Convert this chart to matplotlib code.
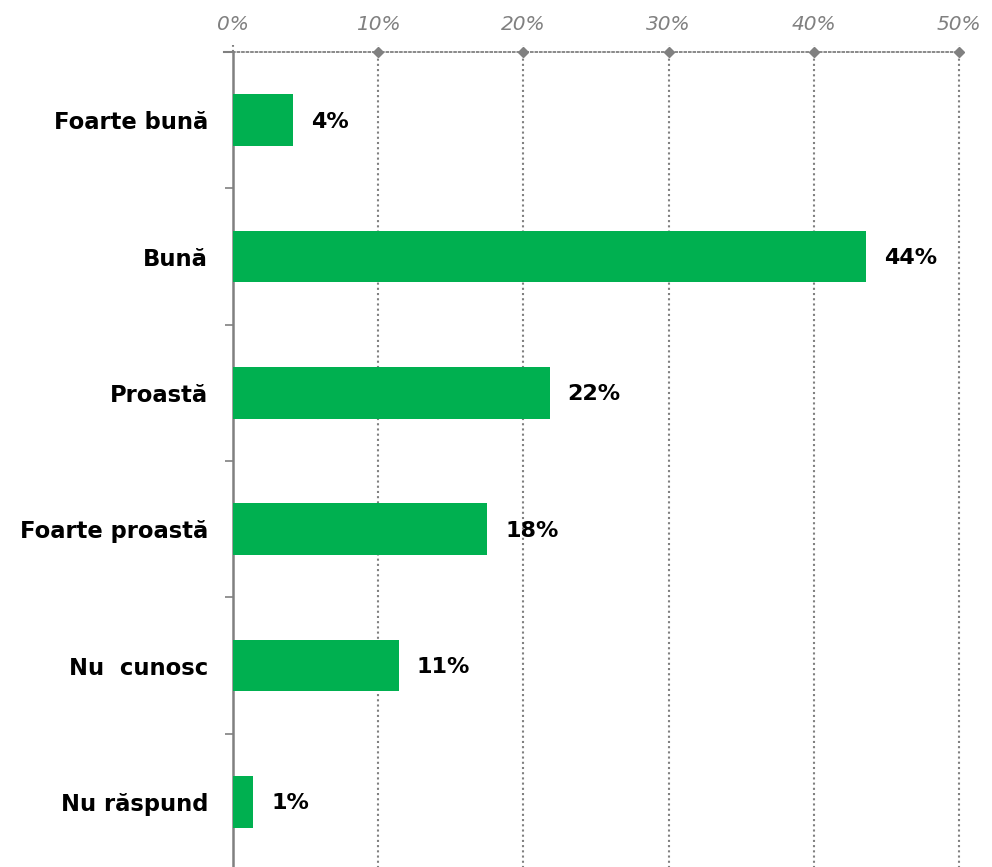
import matplotlib
matplotlib.use('Agg')
import matplotlib.pyplot as plt
import numpy as np

# data
categories = ['Foarte bună', 'Bună', 'Proastă', 'Foarte proastă', 'Nu  cunosc', 'Nu răspund']
values = [4.1, 43.6, 21.8, 17.5, 11.4, 1.4]
value_labels = ['4%', '44%', '22%', '18%', '11%', '1%']
x_ticks = [0, 10, 20, 30, 40, 50]
x_tick_labels = ['0%', '10%', '20%', '30%', '40%', '50%']

GREEN = '#00B050'
GRAY = '#808080'

plt.rcParams['font.family'] = ['DejaVu Sans']

fig = plt.figure(figsize=(9.92, 8.67), dpi=100)
ax = fig.add_axes([0.2349, -0.0035, 0.7318, 0.9435])

y = np.arange(len(categories))
ax.barh(y, values, height=0.38, color=GREEN, zorder=3)

ax.set_xlim(0, 50)
ax.set_ylim(len(categories) - 0.5, -0.5)

# value labels
for yi, v, lab in zip(y, values, value_labels):
    ax.annotate(lab, xy=(v, yi), xytext=(13, -1), textcoords='offset points',
                ha='left', va='center', fontsize=16, fontweight='bold', color='black')

# category labels + boundary ticks on the left
ax.set_yticks(y)
ax.set_yticklabels(categories, fontsize=16.3, fontweight='bold')
ax.set_yticks(np.arange(len(categories)) + 0.5, minor=True)
ax.tick_params(axis='y', which='major', length=0, pad=18)
ax.tick_params(axis='y', which='minor', length=6, width=1.2, color=GRAY, direction='out')

# top axis
ax.xaxis.tick_top()
ax.set_xticks(x_ticks)
ax.set_xticklabels(x_tick_labels, fontsize=14.5, style='italic', color=GRAY)
ax.tick_params(axis='x', length=0, pad=13)

# dotted gridlines, extended slightly above the top line
for xt in x_ticks[1:]:
    ax.axvline(xt, ymin=0, ymax=1.009, color=GRAY, linestyle=(0, (1, 1.5)),
               linewidth=1.5, clip_on=False, zorder=1)
ax.axvline(0, ymin=1.0, ymax=1.009, color=GRAY, linestyle=(0, (1, 1.5)),
           linewidth=1.5, clip_on=False, zorder=1)
ax.plot(x_ticks[1:], [1] * (len(x_ticks) - 1), transform=ax.get_xaxis_transform(),
        linestyle='none', marker='D', markersize=5, color=GRAY, clip_on=False, zorder=4)
# small tick left of the origin on the top line
ax.plot([-0.6, 0], [1, 1], transform=ax.get_xaxis_transform(), color=GRAY,
        linewidth=1.5, clip_on=False)

for s in ['right', 'bottom']:
    ax.spines[s].set_visible(False)
ax.spines['top'].set_linestyle((0, (1, 1.5)))
ax.spines['top'].set_color(GRAY)
ax.spines['top'].set_linewidth(1.3)
ax.spines['left'].set_color(GRAY)
ax.spines['left'].set_linewidth(1.8)

fig.savefig('out.png', dpi=100, facecolor='white')
